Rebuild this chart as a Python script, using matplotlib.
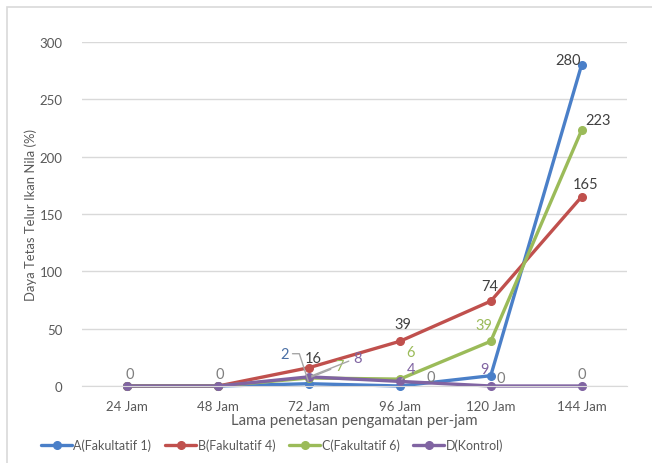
import matplotlib
matplotlib.use('Agg')
import matplotlib.pyplot as plt
from matplotlib.patches import Rectangle

hours = ['24 Jam', '48 Jam', '72 Jam', '96 Jam', '120 Jam', '144 Jam']
names = ['A(Fakultatif 1)', 'B(Fakultatif 4)', 'C(Fakultatif 6)', 'D(Kontrol)']
a_vals = [0, 0, 2, 0, 9, 280]
b_vals = [0, 0, 16, 39, 74, 165]
c_vals = [0, 0, 7, 6, 39, 223]
d_vals = [0, 0, 8, 4, 0, 0]

colors = ['#4A7FC8', '#C0504D', '#9BBB59', '#8064A2']

plt.rcParams['font.family'] = ['Lato', 'DejaVu Sans']

fig = plt.figure(figsize=(6.52, 4.64), dpi=100)
fig.patches.append(Rectangle((7 / 652, -0.05), 1.2, 1 - 8 / 464 + 0.05,
                             transform=fig.transFigure, fill=False,
                             edgecolor='#D9D9D9', linewidth=1.2))
ax = fig.add_axes([82 / 652, 1 - 387 / 464, (627 - 82) / 652, (387 - 43) / 464])

x = list(range(len(hours)))
series = [a_vals, b_vals, c_vals, d_vals]
for vals, name, col in zip(series, names, colors):
    ax.plot(x, vals, color=col, lw=2.4, marker='o', ms=5.5, label=name,
            clip_on=False, solid_capstyle='round')

ax.set_xlim(-0.5, 5.5)
ax.set_ylim(0, 300)
ax.set_yticks(range(0, 301, 50))
ax.set_xticks(x)
ax.set_xticklabels(hours)
ax.grid(axis='y', color='#D9D9D9', lw=1)
ax.set_axisbelow(True)
for s in ['top', 'right', 'left']:
    ax.spines[s].set_visible(False)
ax.spines['bottom'].set_color('#D9D9D9')
ax.tick_params(length=0, labelsize=9.5, colors='#595959')
ax.tick_params(axis='x', pad=10)
ax.tick_params(axis='y', pad=14)
ax.set_xlabel('Lama penetasan pengamatan per-jam', fontsize=10.8, color='#595959', labelpad=1)
ax.set_ylabel('Daya Tetas Telur Ikan Nila (%)', fontsize=9.4, color='#595959', labelpad=2)

dark = '#404040'
grey = '#7F7F7F'
lead = '#A6A6A6'
# (series, index, dx px, dy px, colour, leader style)
labels = [
    (d_vals, 0, 2, 12, grey, None),
    (d_vals, 1, 2, 12, grey, None),
    (a_vals, 2, -25, 30, '#4A6FA5', 'angle,angleA=0,angleB=108'),
    (b_vals, 2, 4, 10, dark, None),
    (c_vals, 2, 30, 12, '#9BBB59', 'arc3'),
    (d_vals, 2, 48, 19, '#8064A2', 'arc3'),
    (b_vals, 3, 3, 17, dark, None),
    (c_vals, 3, 11, 27, '#9BBB59', None),
    (d_vals, 3, 11, 12, '#8064A2', 'arc3'),
    (a_vals, 3, 31, 9, grey, None),
    (b_vals, 4, -1, 15, dark, None),
    (c_vals, 4, -7, 16, '#9BBB59', None),
    (a_vals, 4, -6, 7, '#8064A2', None),
    (d_vals, 4, 10, 8, grey, None),
    (a_vals, 5, -14, 5, dark, None),
    (c_vals, 5, 16, 10, dark, None),
    (b_vals, 5, 4, 13, dark, None),
    (d_vals, 5, 0, 12, grey, None),
]
for vals, i, dx, dy, col, conn in labels:
    props = None
    if conn:
        props = dict(arrowstyle='-', color=lead, lw=1, shrinkA=1, shrinkB=2,
                     connectionstyle=conn)
    ax.annotate(str(vals[i]), (i, vals[i]), xytext=(dx, dy), textcoords='offset pixels',
                ha='center', va='center', fontsize=10.5, color=col, arrowprops=props,
                annotation_clip=False)

fig.legend(loc='center', bbox_to_anchor=(272 / 652, 1 - 446 / 464), ncol=4, frameon=False,
           fontsize=9, handlelength=2.5, columnspacing=1.1, handletextpad=0.1,
           labelcolor='#595959')

fig.savefig('out.png', dpi=100)
